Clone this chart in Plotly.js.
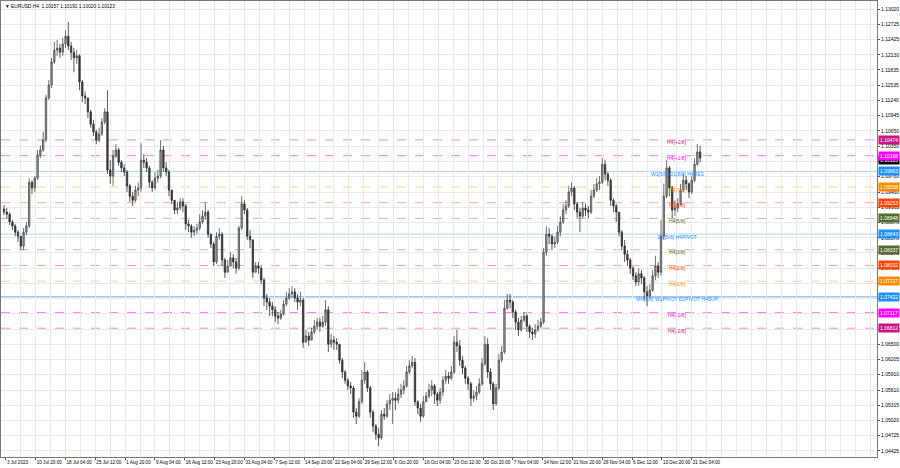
<!DOCTYPE html>
<html><head><meta charset="utf-8">
<script src="https://cdn.plot.ly/plotly-3.0.1.min.js"></script>
<style>html,body{margin:0;padding:0;background:#fff}#chart{width:900px;height:468px}</style>
</head><body><div id="chart"></div>
<script>
// ---- data (EURUSD, 12-hour candles) ----
const firstDay = '2023-07-03';
const openP = [
1.0913,1.0907,1.0903,1.0888,1.0880,1.0868,1.0860,1.0841,1.0868,1.0880,
1.0965,1.0954,1.0973,1.1018,1.1028,1.1047,1.1129,1.1154,1.1199,1.1222,
1.1226,1.1218,1.1234,1.1249,1.1230,1.1218,1.1207,1.1211,1.1160,1.1133,
1.1129,1.1102,1.1078,1.1063,1.1047,1.1059,1.1082,1.1102,1.0989,1.0977,
1.1016,1.1028,1.1004,1.0993,1.0985,1.0958,1.0938,1.0930,1.0950,1.0954,
1.1008,1.1004,1.0993,1.0965,1.0954,1.0973,1.0977,1.1028,1.0993,1.0985,
1.0950,1.0930,1.0911,1.0915,1.0927,1.0919,1.0884,1.0880,1.0868,1.0872,
1.0876,1.0888,1.0899,1.0907,1.0864,1.0845,1.0810,1.0860,1.0864,1.0814,
1.0790,1.0802,1.0818,1.0810,1.0798,1.0876,1.0923,1.0911,1.0860,1.0853,
1.0790,1.0802,1.0798,1.0775,1.0740,1.0732,1.0724,1.0717,1.0705,1.0701,
1.0709,1.0728,1.0740,1.0748,1.0752,1.0740,1.0732,1.0736,1.0654,1.0666,
1.0658,1.0674,1.0685,1.0693,1.0685,1.0693,1.0717,1.0650,1.0658,1.0654,
1.0650,1.0619,1.0596,1.0580,1.0569,1.0565,1.0518,1.0510,1.0538,1.0580,
1.0596,1.0565,1.0518,1.0491,1.0475,1.0468,1.0514,1.0510,1.0534,1.0541,
1.0545,1.0541,1.0553,1.0561,1.0569,1.0596,1.0608,1.0615,1.0538,1.0526,
1.0510,1.0538,1.0549,1.0561,1.0569,1.0553,1.0541,1.0557,1.0580,1.0588,
1.0584,1.0596,1.0654,1.0647,1.0619,1.0604,1.0584,1.0573,1.0545,1.0549,
1.0557,1.0573,1.0612,1.0650,1.0596,1.0573,1.0534,1.0565,1.0619,1.0635,
1.0720,1.0736,1.0732,1.0713,1.0693,1.0678,1.0697,1.0705,1.0685,1.0674,
1.0670,1.0678,1.0685,1.0693,1.0829,1.0864,1.0860,1.0845,1.0849,1.0868,
1.0888,1.0911,1.0919,1.0946,1.0954,1.0923,1.0907,1.0899,1.0915,1.0911,
1.0907,1.0938,1.0950,1.0962,1.0965,1.1000,1.0981,1.0969,1.0930,1.0919,
1.0907,1.0868,1.0841,1.0825,1.0814,1.0798,1.0783,1.0771,1.0787,1.0779,
1.0752,1.0744,1.0755,1.0783,1.0802,1.0790,1.0860,1.0938,1.0993,1.0954,
1.0911,1.0915,1.0923,1.0950,1.0969,1.0962,1.0946,1.0969,1.1000,1.1024];
const highP = [
1.0921,1.0915,1.0907,1.0892,1.0884,1.0872,1.0860,1.0876,1.0888,1.0973,
1.0969,1.0977,1.1028,1.1037,1.1063,1.1135,1.1164,1.1207,1.1238,1.1242,
1.1234,1.1246,1.1261,1.1277,1.1238,1.1226,1.1222,1.1214,1.1164,1.1141,
1.1129,1.1106,1.1086,1.1067,1.1071,1.1090,1.1109,1.1144,1.1008,1.1028,
1.1039,1.1032,1.1008,1.1000,1.0989,1.0962,1.0946,1.0958,1.0965,1.1041,
1.1020,1.1012,1.0997,1.0969,1.0985,1.0989,1.1047,1.1036,1.1004,1.0989,
1.0950,1.0930,1.0927,1.0934,1.0934,1.0923,1.0892,1.0884,1.0880,1.0884,
1.0903,1.0911,1.0927,1.0911,1.0864,1.0849,1.0868,1.0876,1.0868,1.0818,
1.0814,1.0829,1.0825,1.0818,1.0880,1.0938,1.0930,1.0915,1.0872,1.0853,
1.0810,1.0810,1.0802,1.0779,1.0748,1.0740,1.0732,1.0724,1.0713,1.0717,
1.0736,1.0752,1.0759,1.0763,1.0759,1.0748,1.0752,1.0740,1.0678,1.0674,
1.0682,1.0697,1.0701,1.0701,1.0705,1.0736,1.0724,1.0670,1.0666,1.0662,
1.0650,1.0623,1.0600,1.0584,1.0577,1.0569,1.0526,1.0545,1.0600,1.0615,
1.0600,1.0569,1.0522,1.0495,1.0487,1.0522,1.0526,1.0541,1.0553,1.0557,
1.0557,1.0565,1.0573,1.0580,1.0608,1.0619,1.0627,1.0623,1.0541,1.0534,
1.0549,1.0557,1.0573,1.0580,1.0573,1.0557,1.0565,1.0588,1.0600,1.0596,
1.0608,1.0666,1.0678,1.0658,1.0627,1.0608,1.0588,1.0577,1.0561,1.0569,
1.0584,1.0623,1.0666,1.0662,1.0604,1.0577,1.0573,1.0631,1.0647,1.0736,
1.0748,1.0748,1.0736,1.0717,1.0701,1.0705,1.0713,1.0709,1.0689,1.0682,
1.0689,1.0697,1.0701,1.0837,1.0880,1.0876,1.0864,1.0860,1.0880,1.0899,
1.0923,1.0930,1.0958,1.0965,1.0958,1.0927,1.0915,1.0927,1.0923,1.0919,
1.0950,1.0962,1.0973,1.0977,1.1012,1.1008,1.0985,1.0973,1.0934,1.0923,
1.0907,1.0872,1.0853,1.0833,1.0818,1.0802,1.0790,1.0798,1.0794,1.0783,
1.0763,1.0767,1.0794,1.0822,1.0810,1.0892,1.0962,1.1008,1.0997,1.0958,
1.0930,1.0934,1.0962,1.0981,1.0977,1.0965,1.0977,1.1012,1.1039,1.1036];
const lowP = [
1.0901,1.0895,1.0882,1.0872,1.0860,1.0849,1.0833,1.0833,1.0862,1.0876,
1.0942,1.0946,1.0969,1.1012,1.1024,1.1043,1.1125,1.1148,1.1195,1.1211,
1.1207,1.1211,1.1226,1.1222,1.1203,1.1179,1.1195,1.1144,1.1121,1.1117,
1.1090,1.1071,1.1055,1.1039,1.1043,1.1055,1.1078,1.0981,1.0962,1.0958,
1.1012,1.0997,1.0985,1.0977,1.0946,1.0927,1.0919,1.0927,1.0938,1.0946,
1.0993,1.0985,1.0954,1.0946,1.0950,1.0965,1.0973,1.0985,1.0977,1.0938,
1.0923,1.0903,1.0903,1.0911,1.0907,1.0872,1.0868,1.0857,1.0860,1.0864,
1.0872,1.0884,1.0892,1.0857,1.0837,1.0802,1.0806,1.0853,1.0802,1.0779,
1.0790,1.0802,1.0798,1.0787,1.0794,1.0872,1.0903,1.0853,1.0837,1.0779,
1.0790,1.0787,1.0767,1.0724,1.0717,1.0705,1.0705,1.0693,1.0689,1.0697,
1.0705,1.0724,1.0736,1.0740,1.0732,1.0717,1.0724,1.0643,1.0654,1.0647,
1.0658,1.0670,1.0678,1.0674,1.0682,1.0685,1.0635,1.0643,1.0639,1.0639,
1.0612,1.0584,1.0573,1.0561,1.0553,1.0507,1.0495,1.0507,1.0534,1.0573,
1.0557,1.0507,1.0479,1.0464,1.0452,1.0464,1.0503,1.0507,1.0522,1.0495,
1.0522,1.0534,1.0545,1.0553,1.0565,1.0592,1.0604,1.0530,1.0514,1.0499,
1.0507,1.0538,1.0545,1.0549,1.0534,1.0530,1.0534,1.0549,1.0573,1.0573,
1.0580,1.0592,1.0635,1.0608,1.0592,1.0573,1.0561,1.0530,1.0538,1.0541,
1.0553,1.0569,1.0608,1.0584,1.0561,1.0522,1.0530,1.0561,1.0615,1.0631,
1.0717,1.0720,1.0701,1.0678,1.0666,1.0674,1.0693,1.0674,1.0662,1.0658,
1.0662,1.0674,1.0682,1.0689,1.0822,1.0845,1.0833,1.0837,1.0845,1.0860,
1.0884,1.0903,1.0915,1.0938,1.0911,1.0895,1.0868,1.0895,1.0899,1.0895,
1.0903,1.0934,1.0946,1.0950,1.0962,1.0969,1.0958,1.0919,1.0907,1.0888,
1.0860,1.0833,1.0810,1.0802,1.0787,1.0775,1.0763,1.0763,1.0767,1.0736,
1.0724,1.0740,1.0752,1.0775,1.0779,1.0783,1.0853,1.0934,1.0938,1.0895,
1.0899,1.0907,1.0919,1.0946,1.0950,1.0934,1.0942,1.0965,1.0997,1.1004];
const closeP = [
1.0907,1.0903,1.0888,1.0880,1.0868,1.0860,1.0841,1.0868,1.0880,1.0965,
1.0954,1.0973,1.1018,1.1028,1.1047,1.1129,1.1154,1.1199,1.1222,1.1226,
1.1218,1.1234,1.1249,1.1230,1.1218,1.1207,1.1211,1.1160,1.1133,1.1129,
1.1102,1.1078,1.1063,1.1047,1.1059,1.1082,1.1102,1.0989,1.0977,1.1016,
1.1028,1.1004,1.0993,1.0985,1.0958,1.0938,1.0930,1.0950,1.0954,1.1008,
1.1004,1.0993,1.0965,1.0954,1.0973,1.0977,1.1028,1.0993,1.0985,1.0950,
1.0930,1.0911,1.0915,1.0927,1.0919,1.0884,1.0880,1.0868,1.0872,1.0876,
1.0888,1.0899,1.0907,1.0864,1.0845,1.0810,1.0860,1.0864,1.0814,1.0790,
1.0802,1.0818,1.0810,1.0798,1.0876,1.0923,1.0911,1.0860,1.0853,1.0790,
1.0802,1.0798,1.0775,1.0740,1.0732,1.0724,1.0717,1.0705,1.0701,1.0709,
1.0728,1.0740,1.0748,1.0752,1.0740,1.0732,1.0736,1.0654,1.0666,1.0658,
1.0674,1.0685,1.0693,1.0685,1.0693,1.0717,1.0650,1.0658,1.0654,1.0650,
1.0619,1.0596,1.0580,1.0569,1.0565,1.0518,1.0510,1.0538,1.0580,1.0596,
1.0565,1.0518,1.0491,1.0475,1.0468,1.0514,1.0510,1.0534,1.0541,1.0545,
1.0541,1.0553,1.0561,1.0569,1.0596,1.0608,1.0615,1.0538,1.0526,1.0510,
1.0538,1.0549,1.0561,1.0569,1.0553,1.0541,1.0557,1.0580,1.0588,1.0584,
1.0596,1.0654,1.0647,1.0619,1.0604,1.0584,1.0573,1.0545,1.0549,1.0557,
1.0573,1.0612,1.0650,1.0596,1.0573,1.0534,1.0565,1.0619,1.0635,1.0720,
1.0736,1.0732,1.0713,1.0693,1.0678,1.0697,1.0705,1.0685,1.0674,1.0670,
1.0678,1.0685,1.0693,1.0829,1.0864,1.0860,1.0845,1.0849,1.0868,1.0888,
1.0911,1.0919,1.0946,1.0954,1.0923,1.0907,1.0899,1.0915,1.0911,1.0907,
1.0938,1.0950,1.0962,1.0965,1.1000,1.0981,1.0969,1.0930,1.0919,1.0907,
1.0868,1.0841,1.0825,1.0814,1.0798,1.0783,1.0771,1.0787,1.0779,1.0752,
1.0744,1.0755,1.0783,1.0802,1.0790,1.0860,1.0938,1.0993,1.0954,1.0911,
1.0915,1.0923,1.0950,1.0969,1.0962,1.0946,1.0969,1.1000,1.1024,1.10123];

// Murrey-math style levels
const levelValues = [1.10474,1.10168,1.09863,1.09558,1.09253,1.08948,1.08643,1.08337,1.08032,1.07727,1.07422,1.07117,1.06812];
const levelNames  = ['H4[+2/8]','H4[+1/8]','W1[5/8] D1[8/8] H4RES','H4[7/8]','H4[6/8]','H4[5/8]','D1[5/8] H4PIVOT','H4[3/8]','H4[2/8]','H4[1/8]','MN[8/8] W1PIVOT D1PIVOT H4SUP','H4[-1/8]','H4[-2/8]'];
const currentPrice = 1.10123;
const titleText = '\u25BC EURUSD,H4  1.10157 1.10191 1.10020 1.10123';

const yTickVals = [1.13020,1.12725,1.12425,1.12130,1.11835,1.11535,1.11240,1.10945,1.10650,1.10350,1.10055,1.09760,1.09460,1.09165,1.08870,1.08570,1.08275,1.07980,1.07685,1.07385,1.07090,1.06795,1.06500,1.06205,1.05910,1.05610,1.05315,1.05020,1.04725,1.04425];
const xTickDates = ['2023-07-03 12:00','2023-07-10 20:00','2023-07-18 04:00','2023-07-25 12:00','2023-08-01 20:00','2023-08-09 04:00','2023-08-16 12:00','2023-08-23 20:00','2023-08-31 04:00','2023-09-07 12:00','2023-09-14 20:00','2023-09-22 04:00','2023-09-29 12:00','2023-10-06 20:00','2023-10-16 04:00','2023-10-23 12:00','2023-10-30 20:00','2023-11-07 04:00','2023-11-14 12:00','2023-11-21 20:00','2023-11-29 04:00','2023-12-06 12:00','2023-12-13 20:00','2023-12-21 04:00'];
const xTickText = ['3 Jul 2023','10 Jul 20:00','18 Jul 04:00','25 Jul 12:00','1 Aug 20:00','9 Aug 04:00','16 Aug 12:00','23 Aug 20:00','31 Aug 04:00','7 Sep 12:00','14 Sep 20:00','22 Sep 04:00','29 Sep 12:00','6 Oct 20:00','16 Oct 04:00','23 Oct 12:00','30 Oct 20:00','7 Nov 04:00','14 Nov 12:00','21 Nov 20:00','29 Nov 04:00','6 Dec 12:00','13 Dec 20:00','21 Dec 04:00'];

// ---- styles ----
const lineStyle = [
 {c:'#e58fcf',d:'dash',t:'#c71585',b:'#c71585'},
 {c:'#ff7bff',d:'dash',t:'#ff00ff',b:'#ff00ff'},
 {c:'#a9d2ff',d:'solid',t:'#1e90ff',b:'#1e90ff'},
 {c:'#ffd199',d:'dash',t:'#ff8c00',b:'#ff8c00'},
 {c:'#ffa98c',d:'dash',t:'#ff4500',b:'#ff4500'},
 {c:'#bdbdaa',d:'dash',t:'#556b2f',b:'#556b2f'},
 {c:'#a9d2ff',d:'solid',t:'#1e90ff',b:'#1e90ff'},
 {c:'#bdbdaa',d:'dash',t:'#556b2f',b:'#556b2f'},
 {c:'#ffa98c',d:'dash',t:'#ff4500',b:'#ff4500'},
 {c:'#ffd199',d:'dash',t:'#ff8c00',b:'#ff8c00'},
 {c:'#6fa8f0',d:'solid',t:'#1e90ff',b:'#1e90ff'},
 {c:'#ff7bff',d:'dash',t:'#ff00ff',b:'#ff00ff'},
 {c:'#e58fcf',d:'dash',t:'#c71585',b:'#c71585'}
];

// ---- time grid helpers (trading time, weekends skipped) ----
function isoMin(ms){ return new Date(ms).toISOString().slice(0,16).replace('T',' '); }
function parseT(s){ return new Date(s.replace(' ','T')+':00Z').getTime(); }
function candleTimes(start, n){
  const out=[]; let d=parseT(start+' 00:00');
  while(out.length<n){
    const wd=new Date(d).getUTCDay();
    if(wd!==0 && wd!==6){ for(const h of [4,16]) if(out.length<n) out.push(isoMin(d+h*3600e3)); }
    d+=86400e3;
  }
  return out;
}
function addBars(s, bars){
  let t=parseT(s), k=0;
  while(k<bars){ t+=4*3600e3; const wd=new Date(t).getUTCDay(); if(wd!==0&&wd!==6) k++; }
  return isoMin(t);
}
const xs = candleTimes(firstDay, closeP.length);
const gridDates=[]; { let g='2023-07-06 04:00'; while(parseT(g) < parseT('2024-02-06 00:00')){ gridDates.push(g); g=addBars(g,16);} }

const FONT='Liberation Sans, Arial, sans-serif';
const trace = {
  type:'candlestick', x:xs, open:openP, high:highP, low:lowP, close:closeP,
  increasing:{line:{color:'#4a4a4a',width:0.8},fillcolor:'#a0a0a0'},
  decreasing:{line:{color:'#2e2e2e',width:0.8},fillcolor:'#3a3a3a'},
  whiskerwidth:0, hoverinfo:'skip', showlegend:false
};

const shapes = levelValues.map((v,i)=>({type:'line',xref:'paper',x0:0,x1:1,yref:'y',y0:v,y1:v,layer:'below',
  line:{color:lineStyle[i].c,width:1,dash:lineStyle[i].d}}));

const annotations = [];
annotations.push({xref:'paper',yref:'paper',x:0,y:1,xanchor:'left',yanchor:'top',xshift:2,yshift:-1,showarrow:false,
  text:titleText,font:{family:FONT,size:4.8,color:'#000'}});
annotations.push({xref:'paper',x:1,xanchor:'left',xshift:1,yref:'y',y:currentPrice,yshift:-2,showarrow:false,
  text:currentPrice.toFixed(5),font:{family:FONT,size:5,color:'#fff'},bgcolor:'#000',borderpad:1});
levelValues.forEach((v,i)=>{
  annotations.push({xref:'paper',x:0.7717,xanchor:'center',yref:'y',y:v,yanchor:'middle',yshift:-2.5,showarrow:false,
    text:levelNames[i],font:{family:FONT,size:5,color:lineStyle[i].t}});
  annotations.push({xref:'paper',x:1,xanchor:'left',xshift:1,yref:'y',y:v,showarrow:false,
    text:v.toFixed(5),font:{family:FONT,size:5,color:'#fff'},bgcolor:lineStyle[i].b,borderpad:1});
});

const layout = {
  width:900,height:468,margin:{l:1,r:23,t:1,b:11},
  paper_bgcolor:'#fff',plot_bgcolor:'#fff',showlegend:false,hovermode:false,
  font:{family:FONT,size:5,color:'#000'},
  xaxis:{type:'date',range:['2023-06-30 15:00','2024-02-06 07:12'],
    rangebreaks:[{bounds:['sat','mon']}],rangeslider:{visible:false},
    tickmode:'array',tickvals:xTickDates,ticktext:xTickText,ticklabelposition:'outside right',
    tickangle:0,ticklabeloverflow:'allow',automargin:false,
    ticks:'outside',ticklen:2,tickcolor:'#555',tickfont:{family:FONT,size:4.6,color:'#000'},
    showgrid:false,zeroline:false,showline:true,mirror:true,linecolor:'#777',linewidth:1,
    minor:{tickmode:'array',tickvals:gridDates,showgrid:true,gridcolor:'#e9e9e9',gridwidth:1,ticks:''}},
  yaxis:{side:'right',range:[1.04307,1.13176],tickmode:'array',tickvals:yTickVals,automargin:false,
    ticktext:yTickVals.map(v=>v.toFixed(5)),ticks:'outside',ticklen:2,tickcolor:'#555',
    tickfont:{family:FONT,size:5,color:'#000'},showgrid:true,gridcolor:'#e9e9e9',gridwidth:1,
    zeroline:false,showline:true,mirror:true,linecolor:'#777',linewidth:1},
  shapes:shapes,annotations:annotations
};
Plotly.newPlot('chart',[trace],layout,{staticPlot:true,displayModeBar:false});
</script></body></html>
